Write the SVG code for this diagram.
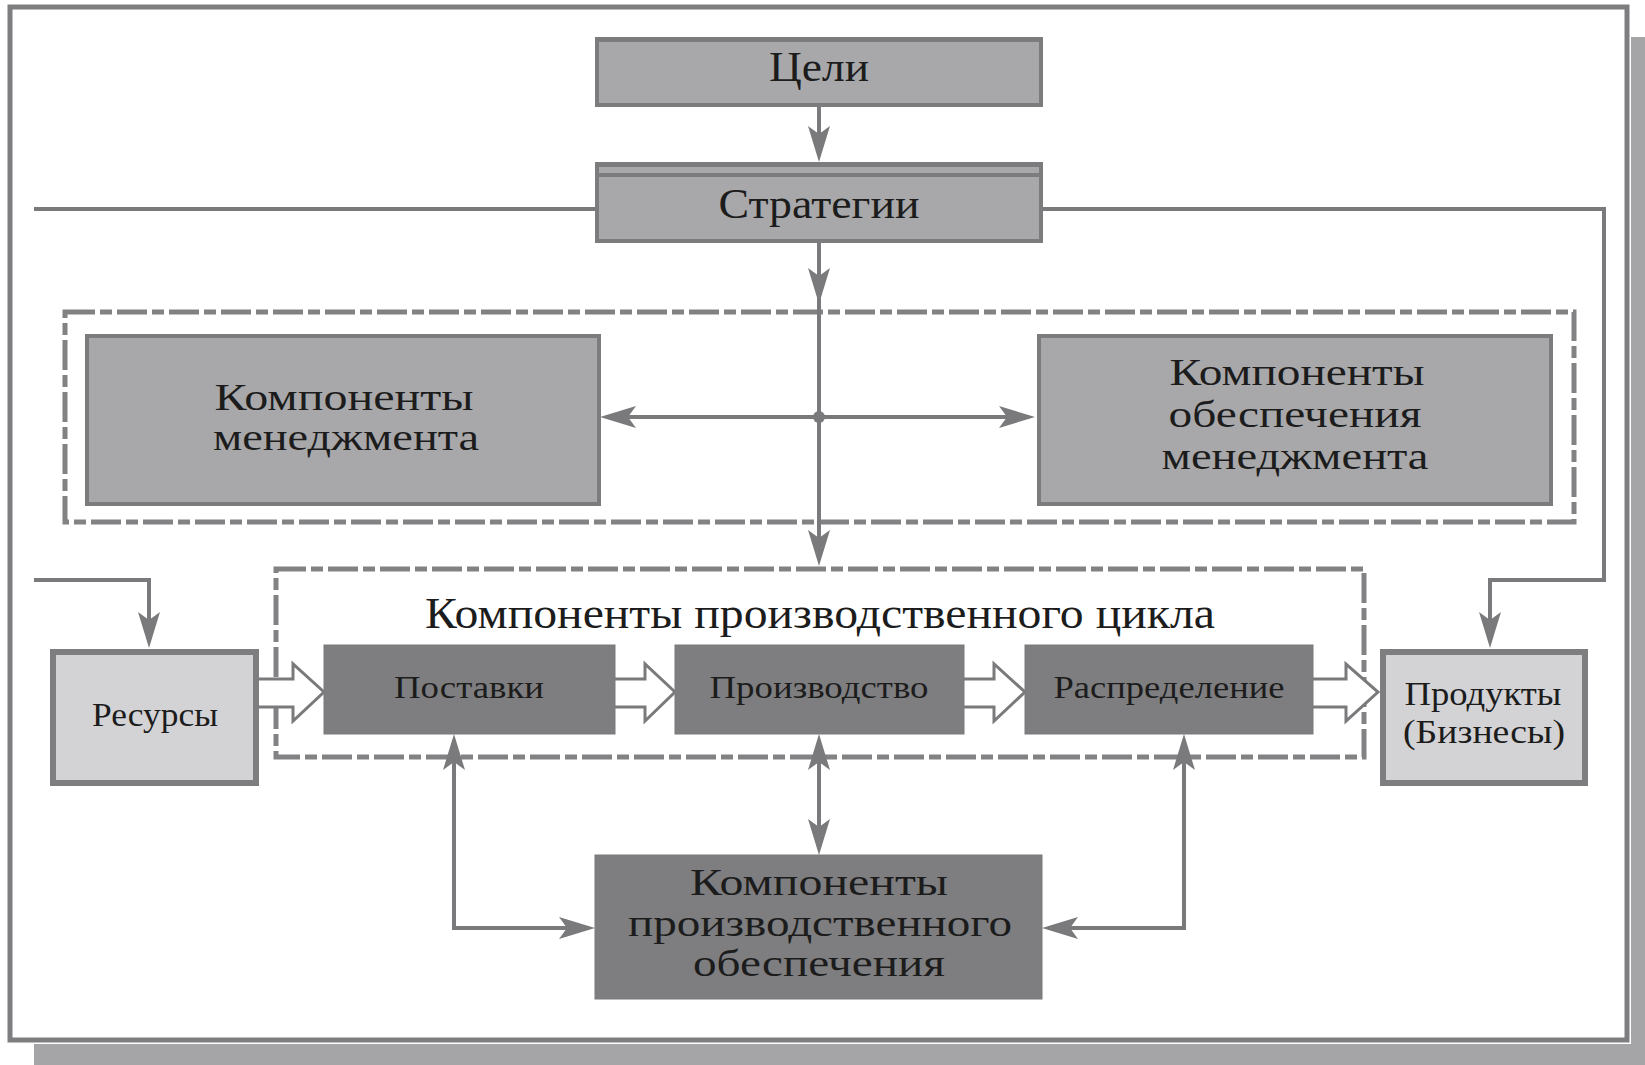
<svg xmlns="http://www.w3.org/2000/svg" width="1645" height="1065" viewBox="0 0 1645 1065">
<style>
  text { font-family: "Liberation Serif", "Times New Roman", serif; fill: #1c1c1c; text-anchor: middle; }
  .t42 { font-size: 42px; }
  .t38 { font-size: 37px; }
  .t44 { font-size: 44px; }
  .t30 { font-size: 31px; }
  .t33 { font-size: 33px; }
  .mid { fill: #a8a8aa; stroke: #7c7c7e; stroke-width: 4; }
  .dark { fill: #7e7e80; stroke: #7a7a7c; stroke-width: 1; }
  .light { fill: #d3d3d5; stroke: #7e7e80; stroke-width: 6; }
  .dash { fill: none; stroke: #828284; stroke-width: 5; stroke-dasharray: 30 5 12 5; }
  .conn { fill: none; stroke: #7a7a7c; stroke-width: 4; }
  .hollow { fill: #ffffff; stroke: #7a7a7c; stroke-width: 3; stroke-linejoin: miter; }
</style>
<defs>
  <marker id="ah" viewBox="0 0 36 22" refX="30" refY="11" markerWidth="36" markerHeight="22" markerUnits="userSpaceOnUse" orient="auto-start-reverse">
    <path d="M0,0 L36,11 L0,22 L8,11 Z" fill="#7a7a7c"/>
  </marker>
</defs>

<rect x="0" y="0" width="1645" height="1065" fill="#ffffff"/>
<g id="frame">
  <rect x="1631" y="37" width="14" height="1028" fill="#a5a5a7"/>
  <rect x="34" y="1044" width="1611" height="21" fill="#a5a5a7"/>
  <rect x="10" y="7" width="1617" height="1033" fill="#ffffff" stroke="#7e7e80" stroke-width="5"/>
</g>

<g id="group-management">
  <rect class="dash" x="65" y="312" width="1509" height="210"/>
</g>
<g id="group-production-cycle">
  <rect class="dash" x="276" y="569" width="1088" height="188"/>
  <text class="t44" x="820" y="628" textLength="790" lengthAdjust="spacingAndGlyphs">Компоненты производственного цикла</text>
</g>

<g id="connectors">
  <path class="conn" d="M819,105 V156" marker-end="url(#ah)"/>
  <path class="conn" d="M819,241 V298" marker-end="url(#ah)"/>
  <path class="conn" d="M819,298 V560" marker-end="url(#ah)"/>
  <path class="conn" d="M606,417 H1029" stroke-width="5" marker-start="url(#ah)" marker-end="url(#ah)"/>
  <circle cx="819" cy="417" r="6" fill="#7a7a7c"/>
  <path class="conn" d="M34,209 H596"/>
  <path class="conn" d="M1041,209 H1604 V580 H1490 V642" marker-end="url(#ah)"/>
  <path class="conn" d="M34,580 H149 V642" marker-end="url(#ah)"/>
  <path class="conn" d="M589,928 H454 V740" marker-start="url(#ah)" marker-end="url(#ah)"/>
  <path class="conn" d="M819,740 V849" marker-start="url(#ah)" marker-end="url(#ah)"/>
  <path class="conn" d="M1048,928 H1184 V740" marker-start="url(#ah)" marker-end="url(#ah)"/>
  <path class="hollow" d="M258,679 H293 V664 L324,692 L293,721 V707 H258"/>
  <path class="hollow" d="M615,679 H645 V664 L675,692 L645,721 V707 H615"/>
  <path class="hollow" d="M964,679 H994 V664 L1025,692 L994,721 V707 H964"/>
  <path class="hollow" d="M1313,679 H1346 V664 L1378,692 L1346,721 V707 H1313"/>
</g>

<g id="node-goals">
  <rect class="mid" x="597" y="39" width="444" height="66"/>
  <rect x="597" y="37" width="444" height="5" fill="#7c7c7e"/>
  <text class="t42" x="819" y="81" textLength="100" lengthAdjust="spacingAndGlyphs">Цели</text>
</g>
<g id="node-strategies">
  <rect class="mid" x="597" y="164" width="444" height="77"/>
  <rect x="597" y="162" width="444" height="5" fill="#7c7c7e"/>
  <rect x="597" y="173" width="444" height="4" fill="#7c7c7e"/>
  <text class="t42" x="819" y="218" textLength="201" lengthAdjust="spacingAndGlyphs">Стратегии</text>
</g>
<g id="node-mgmt">
  <rect class="mid" x="87" y="336" width="512" height="168"/>
  <text class="t38" x="344" y="410" textLength="259" lengthAdjust="spacingAndGlyphs">Компоненты</text>
  <text class="t38" x="346" y="450" textLength="266" lengthAdjust="spacingAndGlyphs">менеджмента</text>
</g>
<g id="node-mgmt-support">
  <rect class="mid" x="1039" y="336" width="512" height="168"/>
  <text class="t38" x="1297" y="385" textLength="255" lengthAdjust="spacingAndGlyphs">Компоненты</text>
  <text class="t38" x="1295" y="427" textLength="253" lengthAdjust="spacingAndGlyphs">обеспечения</text>
  <text class="t38" x="1295" y="469" textLength="267" lengthAdjust="spacingAndGlyphs">менеджмента</text>
</g>
<g id="node-resources">
  <rect class="light" x="53" y="652" width="203" height="131"/>
  <text class="t33" x="155" y="726" textLength="126" lengthAdjust="spacingAndGlyphs">Ресурсы</text>
</g>
<g id="node-supply">
  <rect class="dark" x="324" y="645" width="291" height="89"/>
  <text class="t30" x="469" y="698" textLength="150" lengthAdjust="spacingAndGlyphs">Поставки</text>
</g>
<g id="node-production">
  <rect class="dark" x="675" y="645" width="289" height="89"/>
  <text class="t30" x="819" y="698" textLength="219" lengthAdjust="spacingAndGlyphs">Производство</text>
</g>
<g id="node-distribution">
  <rect class="dark" x="1025" y="645" width="288" height="89"/>
  <text class="t30" x="1169" y="698" textLength="231" lengthAdjust="spacingAndGlyphs">Распределение</text>
</g>
<g id="node-products">
  <rect class="light" x="1383" y="652" width="202" height="131"/>
  <text class="t33" x="1483" y="705" textLength="157" lengthAdjust="spacingAndGlyphs">Продукты</text>
  <text class="t33" x="1484" y="743" textLength="162" lengthAdjust="spacingAndGlyphs">(Бизнесы)</text>
</g>
<g id="node-production-support">
  <rect class="dark" x="595" y="855" width="447" height="144"/>
  <text class="t38" x="819" y="895" textLength="258" lengthAdjust="spacingAndGlyphs">Компоненты</text>
  <text class="t38" x="820" y="936" textLength="384" lengthAdjust="spacingAndGlyphs">производственного</text>
  <text class="t38" x="819" y="976" textLength="252" lengthAdjust="spacingAndGlyphs">обеспечения</text>
</g>
</svg>
